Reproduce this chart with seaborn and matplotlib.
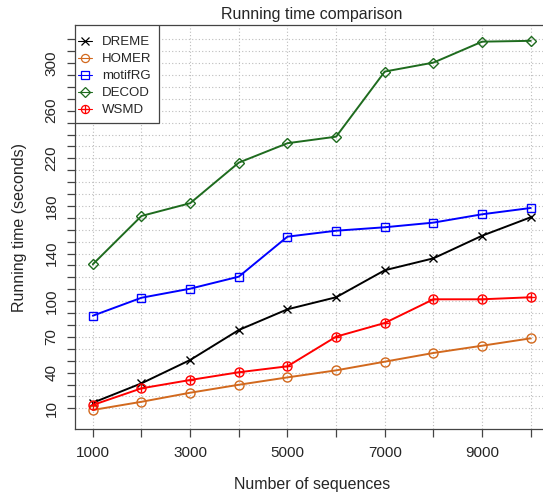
import pandas as pd
import matplotlib
matplotlib.use('Agg')
import matplotlib.pyplot as plt
import seaborn as sns
from matplotlib.lines import Line2D
from matplotlib.patches import Rectangle

# running time (seconds)
n_seq = [1000, 2000, 3000, 4000, 5000, 6000, 7000, 8000, 9000, 10000]
dreme = [14.7, 31.0, 50.6, 75.8, 93.2, 103.3, 126.0, 136.0, 155.0, 170.5]
homer = [8.6, 15.5, 23.1, 29.8, 36.0, 41.9, 49.2, 56.5, 62.6, 68.8]
motifrg = [87.8, 102.9, 110.5, 120.6, 154.2, 159.2, 162.1, 166.0, 173.0, 178.3]
decod = [131.0, 171.6, 182.3, 216.4, 232.7, 238.2, 292.9, 300.4, 318.0, 318.7]
wsmd = [12.8, 26.8, 33.8, 40.3, 45.3, 70.2, 81.7, 101.6, 101.6, 103.3]
methods = ['DREME', 'HOMER', 'motifRG', 'DECOD', 'WSMD']
ytick_labels = [10, 40, 70, 100, 140, 180, 220, 260, 300]
xtick_labels = [1000, 3000, 5000, 7000, 9000]

df = pd.DataFrame({
    'n': n_seq * 5,
    'time': dreme + homer + motifrg + decod + wsmd,
    'method': [m for m in methods for _ in n_seq],
})

styles = {
    'DREME': dict(color='black', marker='x'),
    'HOMER': dict(color='#d2691e', marker='o'),
    'motifRG': dict(color='#0000ff', marker='s'),
    'DECOD': dict(color='#1e6b1e', marker='D'),
    'WSMD': dict(color='#ff0000', marker='o'),
}
msize = {'x': 6, 'o': 6.5, 's': 6, 'D': 5.5}

sns.set_style('white')
plt.rcParams['font.family'] = ['Liberation Sans', 'DejaVu Sans']

fig = plt.figure(figsize=(5.43, 4.94), dpi=100)
ax = fig.add_axes([0.1387, 0.131, 0.871, 0.8184])

handles = []
for m in methods:
    st = styles[m]
    sub = df[df['method'] == m]
    sns.lineplot(data=sub, x='n', y='time', ax=ax, color=st['color'],
                 marker=st['marker'], markersize=msize[st['marker']],
                 markerfacecolor='none', markeredgecolor=st['color'],
                 markeredgewidth=1.0, lw=1.4, legend=False, zorder=3)
    h = Line2D([], [], color=st['color'], marker=st['marker'], lw=0.8,
               markersize=msize[st['marker']] * 0.9, markerfacecolor='none',
               markeredgecolor=st['color'], markeredgewidth=0.9)
    if m == 'WSMD':
        sns.scatterplot(data=sub, x='n', y='time', ax=ax, marker='+',
                        s=28, color=st['color'], linewidth=1.0, zorder=4,
                        legend=False)
        h2 = Line2D([], [], color=st['color'], marker='+', lw=0,
                    markersize=5.5, markeredgewidth=0.9)
        handles.append((h, h2))
    else:
        handles.append(h)

ax.set_xlim(640, 10360)
ax.set_ylim(-7.6, 332)
ax.set_xticks(n_seq)
ax.set_xticklabels([str(v) if v in xtick_labels else '' for v in n_seq])
yt = list(range(10, 330, 10))
ax.set_yticks(yt)
ax.set_yticklabels([str(v) if v in ytick_labels else '' for v in yt],
                   rotation=90, va='center')
ax.grid(True, ls=(0, (1, 2)), color='#bdbdbd', lw=0.8)
ax.set_axisbelow(True)
for s in ax.spines.values():
    s.set_color('#444444')
    s.set_linewidth(0.9)
ax.tick_params(axis='both', direction='out', length=6, width=0.9,
               color='#444444', labelsize=11, pad=6, left=True, bottom=True)

ax.set_xlabel('Number of sequences', fontsize=11.5, labelpad=12)
ax.set_ylabel('Running time (seconds)', fontsize=11.5, labelpad=13)
ax.set_title('Running time comparison', fontsize=11.5, pad=4)

# legend box drawn separately (R-style padding)
box = Rectangle((0, 0.7584), 0.1776, 0.2416, transform=ax.transAxes,
                facecolor='white', edgecolor='#444444', lw=0.9, zorder=5)
ax.add_patch(box)
leg = ax.legend(handles, methods, loc='upper left', bbox_to_anchor=(0, 0.979),
                borderaxespad=0, frameon=False, fontsize=9.5,
                handlelength=1.05, handletextpad=0.8, labelspacing=0.36,
                borderpad=0.2)
leg.set_zorder(6)

plt.savefig('out.png', dpi=100)
